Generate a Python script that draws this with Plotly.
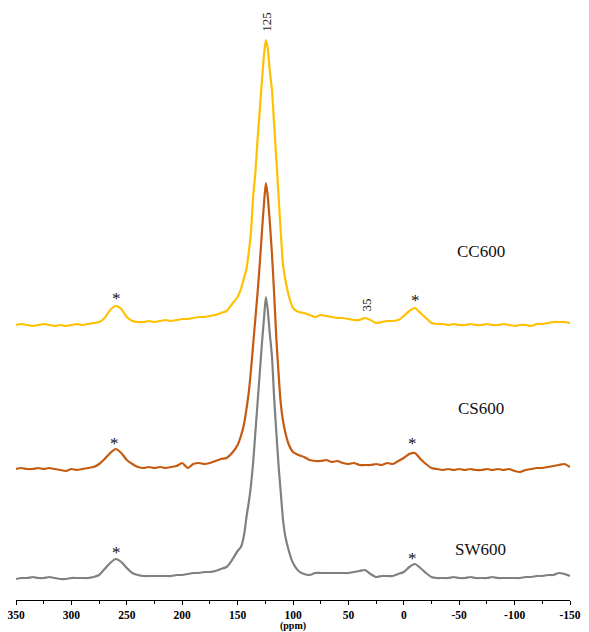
import plotly.graph_objects as go

# Chemical shift sample positions (ppm)
ppm = [350, 345, 340, 335, 330, 325, 320, 315, 310, 305, 300, 295, 290, 285, 280,
       275, 270, 265, 260, 255, 250, 245, 240, 235, 230, 225, 220, 215, 210, 205,
       200, 195, 190, 185, 180, 175, 170, 165, 160, 155, 150,
       147, 144, 142, 140, 138, 136, 134, 132, 130, 128, 126, 124.5, 123, 121, 119,
       117, 115, 113, 111, 109, 107, 104,
       100, 95, 90, 85, 80, 75, 70, 65, 60, 55, 50, 45, 40, 35, 30, 25, 20, 15, 10,
       5, 0, -5, -10, -15, -20, -25, -30, -35, -40, -45, -50, -55, -60, -65, -70,
       -75, -80, -85, -90, -95, -100, -105, -110, -115, -120, -125, -130, -135,
       -140, -145, -150]

cc600 = [0, 1, 0, -1, 0, 1, 0, -1, 0, -1, 0, 1, 0, 1, 2,
         3, 7, 15, 19, 16, 8, 4, 3, 3, 4, 3, 4, 5, 4, 5,
         6, 6, 7, 8, 8, 9, 10, 12, 14, 21, 28,
         36, 48, 56, 72, 92, 128, 152, 185, 215, 245, 272, 285, 278, 255, 235,
         200, 165, 128, 92, 60, 46, 30,
         17, 13, 12, 10, 8, 10, 9, 8, 7, 7, 6, 5, 5, 7, 5, 2, 3, 4, 4,
         5, 9, 14, 17, 12, 7, 2, 1, 1, 0, 1, 0, 0, 1, 0, 0,
         1, 0, 0, 1, 0, -1, 0, 0, -1, 1, 1, 2, 3,
         3, 3, 2]

cs600 = [0, 1, 0, 0, 1, 0, 1, 0, -1, -2, 0, -1, 0, 1, 2,
         5, 10, 16, 20, 16, 9, 5, 2, 1, 2, 1, 2, 1, 2, 3,
         6, 1, 5, 6, 5, 6, 8, 10, 11, 16, 24,
         33, 46, 60, 76, 98, 124, 150, 176, 205, 238, 268, 286, 275, 248, 215,
         175, 130, 95, 65, 48, 37, 25,
         17, 14, 12, 9, 8, 8, 9, 7, 8, 6, 5, 6, 4, 4, 4, 5, 4, 6, 5,
         8, 11, 15, 16, 10, 5, 1, 0, -1, 0, -1, 0, -1, 0, -1, -1,
         0, -1, 0, -1, 0, -2, -3, -1, 0, 1, 1, 2, 3,
         4, 5, 2]

sw600 = [-1, 0, 0, 1, 0, 0, 1, 0, -1, -1, 0, 0, 0, 0, 1,
         3, 9, 15, 19, 16, 10, 5, 3, 2, 2, 2, 2, 2, 2, 3,
         3, 4, 5, 5, 6, 6, 7, 9, 11, 18, 27,
         31, 44, 61, 75, 92, 115, 145, 175, 205, 235, 262, 281, 270, 245, 222,
         180, 145, 112, 85, 58, 42, 28,
         15, 7, 4, 3, 5, 5, 5, 5, 5, 5, 5, 6, 7, 8, 4, 1, 2, 2, 2,
         4, 6, 11, 14, 10, 5, 1, 0, 0, 0, 1, 0, 0, 1, 0, 0,
         0, 1, 0, 0, 0, 0, 0, 1, 1, 2, 2, 3, 3,
         5, 4, 2]

series_names = ["CC600", "CS600", "SW600"]
series_values = [cc600, cs600, sw600]
colors = ["#FFC000", "#C55A11", "#808080"]
offsets = [275, 131, 22]          # vertical stacking offsets
label_y = [349, 192, 51]

tick_vals = [350, 300, 250, 200, 150, 100, 50, 0, -50, -100, -150]
tick_text = ["350", "300", "250", "200", "150", "100", "50", "0", "-50", "-100", "-150"]

# asterisk (spinning sideband) markers: (ppm, height above baseline)
star_ppm = [[259, -10.5], [261.5, -8], [259, -8]]
star_h = [[27, 25], [26, 26], [26, 20]]

fig = go.Figure()
for name, vals, col, off in zip(series_names, series_values, colors, offsets):
    fig.add_trace(go.Scatter(x=ppm, y=[v + off for v in vals], mode="lines",
                             line=dict(color=col, width=2.2, shape="spline", smoothing=0.6),
                             name=name, showlegend=False, hoverinfo="skip"))

serif = "Liberation Serif, Times New Roman, serif"
annotations = []
for name, ly in zip(series_names, label_y):
    annotations.append(dict(x=-69.5, y=ly, text=name, showarrow=False,
                            font=dict(family=serif, size=17, color="#111111")))
for sp, sh, off in zip(star_ppm, star_h, offsets):
    for p, h in zip(sp, sh):
        annotations.append(dict(x=p, y=off + h, text="*", showarrow=False,
                                font=dict(family=serif, size=17, color="#111111")))
annotations.append(dict(x=124.5, y=578, text="125", showarrow=False, textangle=-90,
                        font=dict(family=serif, size=13, color="#222222")))
annotations.append(dict(x=34.5, y=295, text="35", showarrow=False, textangle=-90,
                        font=dict(family=serif, size=13, color="#222222")))

fig.update_layout(
    width=589, height=632, autosize=False,
    margin=dict(l=16, r=19, t=10, b=32),
    paper_bgcolor="white", plot_bgcolor="white",
    annotations=annotations,
    xaxis=dict(range=[350, -150], tickvals=tick_vals, ticktext=tick_text,
               automargin=False,
               showgrid=False, zeroline=False, showline=True, linecolor="black",
               linewidth=1, ticks="outside", ticklen=4, tickcolor="black",
               minor=dict(dtick=25, tick0=0, ticks="outside", ticklen=3, tickcolor="black"),
               tickfont=dict(family=serif, size=11.5, color="black", weight="bold"),
               title=dict(text="<b>(ppm)</b>", standoff=3,
                          font=dict(family=serif, size=10, color="black"))),
    yaxis=dict(range=[0, 590], visible=False, showgrid=False, zeroline=False,
               automargin=False),
)

fig.write_html("out.html", config={"displayModeBar": False},
               post_script="document.body.style.margin='0';document.body.style.overflow='hidden';")
